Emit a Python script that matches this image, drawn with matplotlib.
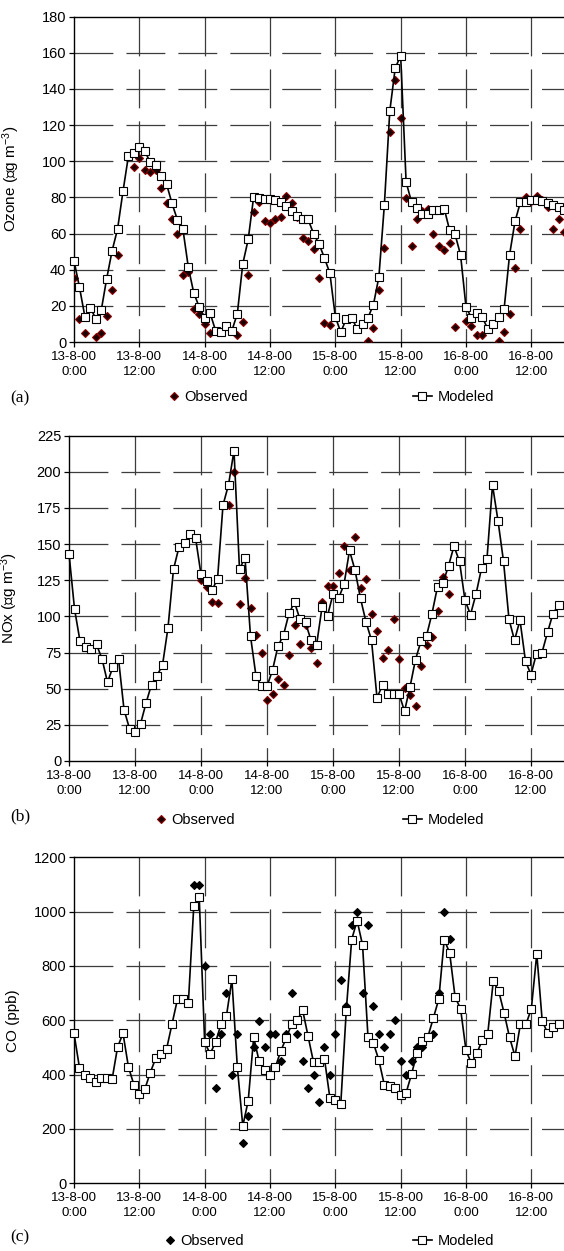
import matplotlib

matplotlib.use("Agg")
import matplotlib.pyplot as plt
import numpy as np

nan = np.nan

# hourly values, 13-8-00 0:00 onwards
OZONE_MOD = [45, 30.4, 14, 18.8, 13, 17.5, 35, 50.5, 62.5, 83.4, 103, 104.8, 108, 105.7,
             99.4, 98, 91.7, 87.4, 76.7, 67.5, 62.5, 41.3, 27.1, 19.4, 13.5, 16, 6.3, 5.5,
             8.9, 6.3, 15.7, 43.2, 56.8, 80.4, 79.7, 79.3, 78.9, 78.4, 77.3, 75.2, 72.4,
             69.8, 67.8, 67.8, 60, 54.3, 46.5, 38, 13.9, 5.4, 12.8, 13.5, 7.2, 10, 13.5,
             20.7, 36, 75.6, 127.7, 151.6, 158.4, 88.5, 77.4, 73.9, 71, 71, 72.8, 72.8,
             73.8, 61.7, 59.5, 48.2, 19.4, 13.3, 15.9, 13.7, 7.2, 10, 13.7, 18.3, 48.2,
             66.7, 77.4, 77.4, 78.4, 78.4, 77.8, 77, 76, 74.7, 72.8]
OZONE_OBS = [35.2, 12.7, 5, nan, 3, 5, 14.2, 29, 48, nan, nan, 97, 102, 95, 94, 95, 85, 77,
             68, 60, 37, 39, 18, 15.3, 10, 5, nan, nan, nan, nan, 3.9, 11, 37, 72, 77.6, 67,
             66, 68, 69, 81, 77, 69, 57.7, 55.8, 51.6, 35.5, 10.7, 9.6, nan, nan, nan, nan,
             nan, nan, 0.5, 7.6, 28.6, 51.8, 116, 145, 124, 79.9, 52.9, 67.8, 72.5, 73.8,
             60, 52.9, 50.8, 54.9, 8.5, nan, 11.6, 8.7, 3.7, 3.7, nan, nan, 0.5, 5.7, 15.5,
             40.7, 62.7, 80.2, 77.8, 81, 78.4, 74.7, 62.7, 67.8, 60.8]

NOX_MOD = [143.4, 105.3, 82.9, 78.8, 77.2, 80.6, 70.7, 54.5, 65.1, 70.7, 35.6, 22.4, 20.3,
           25.6, 40, 52.9, 59.1, 66.3, 92.2, 132.6, 148, 150.6, 157.3, 154.5, 129.1, 124.5,
           118.3, 125.7, 177, 191, 214.6, 132.6, 140.7, 86.4, 58.7, 51.7, 51.7, 62.8, 79.5,
           87.1, 102.1, 109.8, 97.9, 95.8, 83.5, 80, 106.2, 100.4, 115.4, 112.4, 122.1,
           145.6, 132, 112.4, 96.2, 83.5, 43.8, 52.4, 46.6, 46.6, 46.6, 34.4, 51.2, 70.2,
           82.9, 86.5, 102, 120.5, 123.2, 135, 148.6, 138, 111.2, 101.3, 115.4, 133.2, 140,
           190.9, 166.2, 138.2, 98, 83.5, 97.4, 69, 59.8, 74.3, 75, 88.9, 102, 107.8]
NOX_OBS = [nan] * 24 + [125.2, 120.4, 110, 109, nan, 177.2, 199.8, 108.8, 126.4, 105.6,
                        87.1, 74.6, 42.5, 46, 56.4, 52.9, 73, 94, 81, 94, 78.5, 68, 110,
                        121.2, 121.2, 130, 149, 132, 155, 120, 126.2, 102, 89.8, 71.5, 76.6,
                        98.5, 70.6, 50.8, 45.5, 38.1, 65.5, 80, 85.9, 103.6, 127.4, 115.4]

CO_MOD = [552, 426, 399, 388, 374, 388, 387, 383, 501, 552, 428, 363, 329, 346, 407, 460,
          477, 494, 586, 677, 677, 663, 1020, 1053, 519, 477, 519, 586, 616, 751, 428, 211,
          304, 537, 450, 417, 398, 429, 488, 536, 587, 600, 637, 541, 445, 445, 459, 314,
          307, 292, 633, 897, 967, 877, 538, 516, 453, 362, 360, 349, 324, 333, 402, 480,
          525, 540, 608, 678, 897, 848, 685, 643, 489, 441, 479, 528, 551, 743, 708, 627,
          537, 468, 587, 585, 642, 845, 597, 553, 576, 585]
CO_OBS = [nan] * 22 + [1098, 1098, 800, 550, 350, 550, 699, 400, 550, 150, 249, 501, 599,
                       501, 550, 550, 452, 550, 700, 550, 451, 350, 399, 301, 500, 399, 550,
                       749, 651, 950, 1000, 700, 950, 651, 550, 500, 550, 600, 451, 399, 451,
                       500, 500, nan, 550, 700, 1000, 899]

TICK_HOURS = [0, 12, 24, 36, 48, 60, 72, 84]
TICK_LABELS = ["13-8-00\n0:00", "13-8-00\n12:00", "14-8-00\n0:00", "14-8-00\n12:00",
               "15-8-00\n0:00", "15-8-00\n12:00", "16-8-00\n0:00", "16-8-00\n12:00"]

SANS = ["Liberation Sans", "DejaVu Sans"]
SERIF = ["Liberation Serif", "DejaVu Serif"]
plt.rcParams["font.family"] = SANS
plt.rcParams["mathtext.fontset"] = "custom"
plt.rcParams["mathtext.rm"] = "Liberation Sans"
plt.rcParams["mathtext.default"] = "rm"
plt.rcParams["lines.scale_dashes"] = False

W, H = 564, 1251
fig = plt.figure(figsize=(W / 100, H / 100), dpi=100)

panels = [
    # pixel rect (left, top, right, bottom) of each plot area
    dict(px=(74, 16.7, 564, 342), mod=OZONE_MOD, obs=OZONE_OBS, ymax=180, step=20,
         ylabel="Ozone (\u221dg m$^{-3}$)", tag="(a)", tag_y=398, obs_c="#8b0000",
         leg=(168, 413, 397), ylab_x=22),
    dict(px=(69, 435.7, 564, 761), mod=NOX_MOD, obs=NOX_OBS, ymax=225, step=25,
         ylabel="NOx (\u221dg m$^{-3}$)", tag="(b)", tag_y=816, obs_c="#8b0000",
         leg=(155, 403, 820), ylab_x=20),
    dict(px=(74, 857.3, 564, 1183.3), mod=CO_MOD, obs=CO_OBS, ymax=1200, step=200,
         ylabel="CO (ppb)", tag="(c)", tag_y=1237, obs_c="black",
         leg=(164, 413, 1241), ylab_x=20),
]

GRID_C = "#3c3c3c"
DASH = (28, 9.4)

for p in panels:
    l, t, r, b = p["px"]
    ax = fig.add_axes([l / W, 1 - b / H, (r - l) / W, (b - t) / H])
    hours = np.arange(len(p["mod"]))
    ax.set_xlim(0, 90)
    ax.set_ylim(0, p["ymax"])
    yt = np.arange(0, p["ymax"] + 1, p["step"])

    for y in yt[1:-1]:
        ax.axhline(y, color=GRID_C, lw=0.9, dashes=DASH, zorder=1)
    for x in TICK_HOURS[1:]:
        ax.axvline(x, ymin=1, ymax=0, color=GRID_C, lw=0.9, dashes=DASH, zorder=1)

    obs_hours = np.arange(len(p["obs"]))
    h_obs, = ax.plot(obs_hours, p["obs"], ls="none", marker="D", ms=3.8,
                     mfc="#1a0000" if p["obs_c"] != "black" else "black",
                     mec=p["obs_c"], mew=0.8, zorder=3, label="Observed")
    h_mod, = ax.plot(hours, p["mod"], color="black", lw=1.2, marker="s", ms=5.4,
                     mfc="white", mec="black", mew=0.8, zorder=4, label="Modeled",
                     clip_on=False)

    ax.set_yticks(yt)
    ax.set_xticks(TICK_HOURS)
    ax.set_xticklabels(TICK_LABELS, fontsize=9.5, linespacing=1.3)
    ax.tick_params(axis="y", labelsize=10.5, length=3.5, width=0.9, direction="out", pad=2)
    ax.tick_params(axis="x", length=3.5, width=0.9, direction="out", pad=3)
    for s in ("left", "bottom", "top"):
        ax.spines[s].set_linewidth(1.0)
        ax.spines[s].set_color("black")
    ax.spines["right"].set_visible(False)

    ax.set_ylabel(p["ylabel"], fontsize=11)
    ax.yaxis.set_label_coords((p["ylab_x"] - l) / (r - l), 0.5)

    ox, mx, ly = p["leg"]
    ly_ax = (b - ly) / (b - t)
    leg1 = ax.legend(handles=[h_obs], loc="center left",
                     bbox_to_anchor=((ox - l) / (r - l), ly_ax), frameon=False,
                     fontsize=10.5, handlelength=0.8, handletextpad=0.3, borderpad=0,
                     borderaxespad=0, numpoints=1)
    ax.add_artist(leg1)
    ax.legend(handles=[h_mod], loc="center left",
              bbox_to_anchor=((mx - l) / (r - l), ly_ax), frameon=False,
              fontsize=10.5, handlelength=1.3, handletextpad=0.4, borderpad=0,
              borderaxespad=0, numpoints=1)

    fig.text(10 / W, 1 - p["tag_y"] / H, p["tag"], family=SERIF, fontsize=12.5,
             va="center", ha="left")

fig.savefig("out.png", dpi=100)
